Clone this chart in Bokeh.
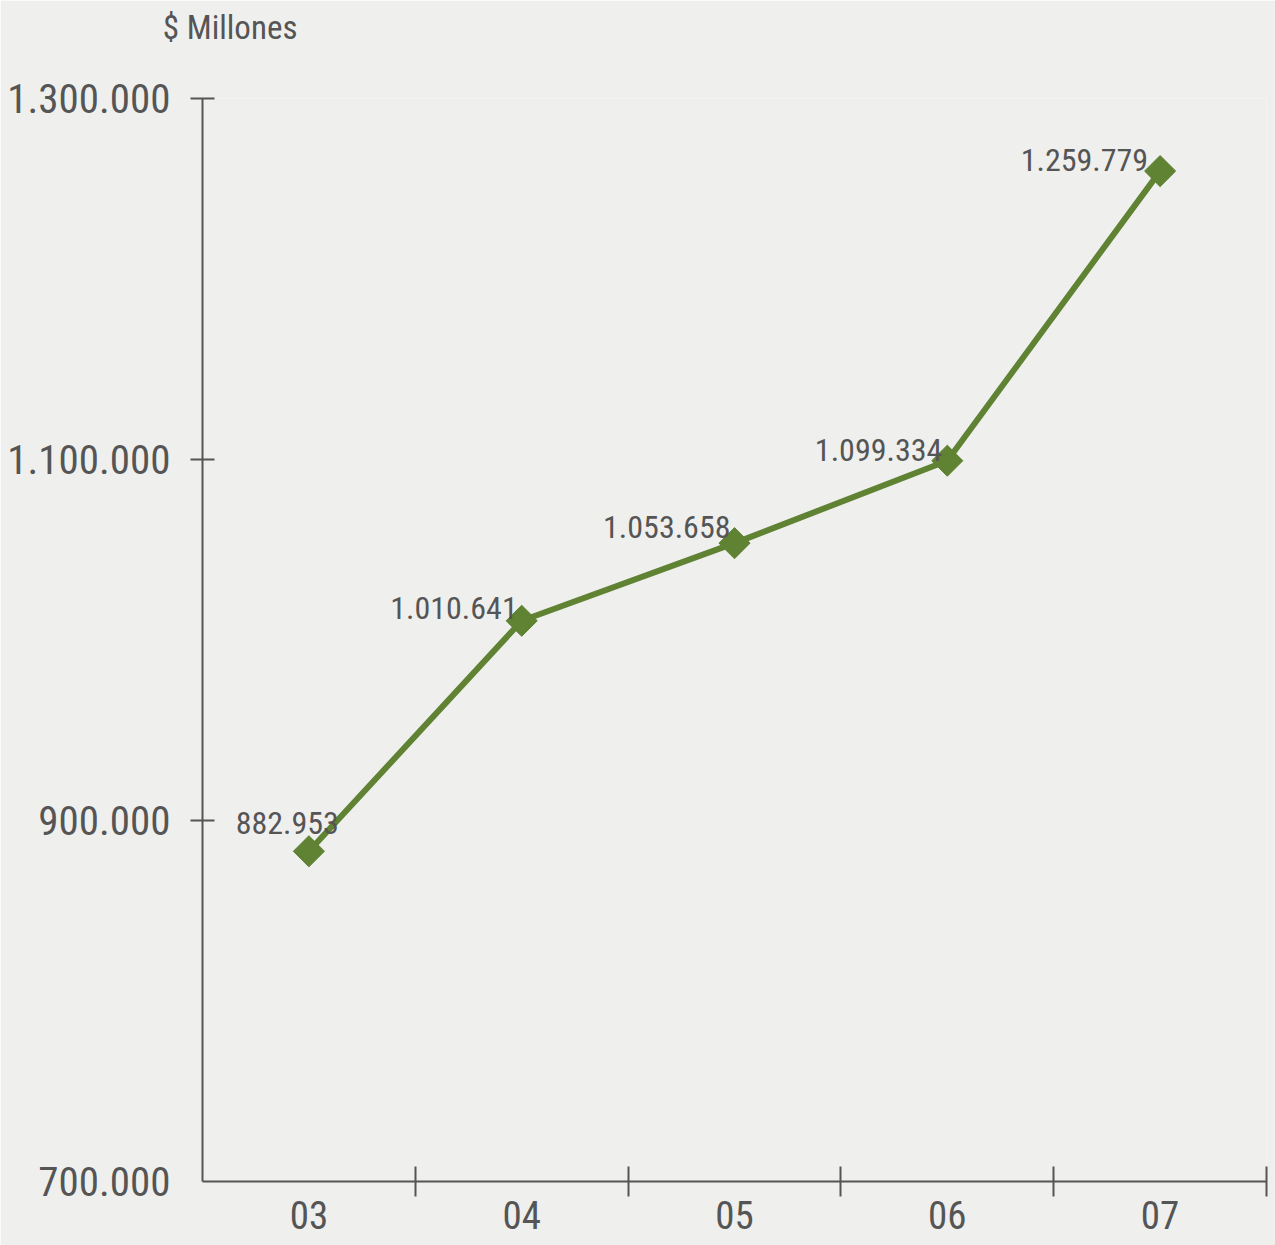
import math
from bokeh.plotting import figure
from bokeh.models import FixedTicker, Range1d, ColumnDataSource, LinearAxis
from bokeh.embed import file_html
from bokeh.resources import INLINE
from bokeh.core.properties import value

# ---- data ----
years = ["03", "04", "05", "06", "07"]
amounts = [882953, 1010641, 1053658, 1099334, 1259779]
y_ticks = [700000, 900000, 1100000, 1300000]
y_tick_labels = ["700.000", "900.000", "1.100.000", "1.300.000"]
y_axis_title = "$ Millones"

# ---- style ----
FONT = "'Roboto Condensed', 'DejaVu Sans Condensed', 'Liberation Sans Narrow', 'Arial Narrow', Roboto"
BG = "#efefed"
INK = "#555555"
GREEN = "#5f8233"
label_dx = [30, -4, -4, -5, -12]
label_dy = [-28, -13, -16, -11, -11]
title_pos = 0.63

xs = [i + 1 for i in range(len(years))]
texts = [f"{v:,}".replace(",", ".") for v in amounts]
src = ColumnDataSource(dict(x=xs, y=amounts, t=texts, dx=label_dx, dy=label_dy))

p = figure(width=1275, height=1245, output_backend="svg", toolbar_location=None,
           x_range=Range1d(0.5, len(years) + 0.5),
           y_range=Range1d(y_ticks[0], y_ticks[-1]),
           min_border_left=202, min_border_right=9, min_border_top=98,
           min_border_bottom=64,
           background_fill_color=BG, border_fill_color=BG,
           outline_line_color=None)
p.grid.visible = False

# x axis (bottom)
xa = p.below[0]
xa.ticker = FixedTicker(ticks=xs, minor_ticks=[x + 0.5 for x in xs])
xa.major_label_overrides = {x: y for x, y in zip(xs, years)}
xa.major_tick_in = 0
xa.major_tick_out = 0
xa.minor_tick_in = 15
xa.minor_tick_out = 15
xa.minor_tick_line_color = INK
xa.minor_tick_line_width = 2
xa.axis_line_color = INK
xa.axis_line_width = 2
xa.major_label_text_font = FONT
xa.major_label_text_font_size = "39px"
xa.major_label_text_color = INK
xa.major_label_standoff = 4

# y axis
ya = p.left[0]
ya.ticker = FixedTicker(ticks=y_ticks, minor_ticks=y_ticks[1:])
ya.major_label_overrides = {t: l for t, l in zip(y_ticks, y_tick_labels)}
ya.major_tick_in = 0
ya.major_tick_out = 0
ya.minor_tick_in = 12
ya.minor_tick_out = 12
ya.minor_tick_line_color = INK
ya.minor_tick_line_width = 2
ya.axis_line_color = INK
ya.axis_line_width = 2
ya.major_label_text_font = FONT
ya.major_label_text_font_size = "41px"
ya.major_label_text_color = INK
ya.major_label_standoff = 20

# "$ Millones" caption above the y axis (as an unlined top axis label)
top = LinearAxis(ticker=FixedTicker(ticks=[title_pos], minor_ticks=[]),
                 major_label_overrides={title_pos: y_axis_title},
                 axis_line_color=None, major_tick_line_color=None,
                 minor_tick_line_color=None,
                 major_tick_in=0, major_tick_out=0,
                 minor_tick_in=0, minor_tick_out=0,
                 major_label_standoff=52,
                 major_label_text_font=FONT,
                 major_label_text_font_size="33px",
                 major_label_text_color=INK)
p.add_layout(top, "above")

p.line("x", "y", source=src, line_color=GREEN, line_width=6)
p.scatter("x", "y", source=src, marker="square", size=22, angle=math.pi / 4,
          fill_color=GREEN, line_color=GREEN)
p.text("x", "y", text="t", source=src, x_offset="dx", y_offset="dy",
       text_align="right", text_baseline="alphabetic",
       text_font=value(FONT), text_font_size="32px", text_color=INK)

open("out.html", "w").write(file_html(p, INLINE))
